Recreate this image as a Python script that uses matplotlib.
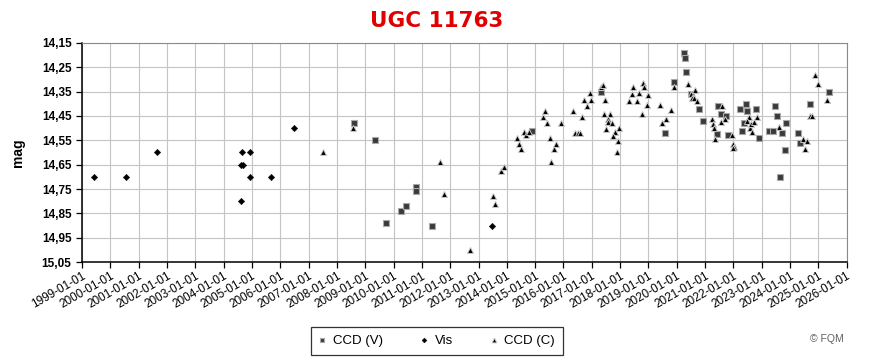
import matplotlib
matplotlib.use("Agg")
import matplotlib.pyplot as plt
import numpy as np

# ------------------------------------------------------------
# Data (decimal year, magnitude)
# ------------------------------------------------------------
ccd_v_t = [2008.60, 2009.35, 2009.73, 2010.25, 2010.44, 2010.78, 2010.81, 2011.36,
           2014.89, 2017.33, 2019.59, 2019.90, 2020.26, 2020.30, 2020.32, 2020.49,
           2020.79, 2020.92, 2021.41, 2021.46, 2021.55, 2021.74, 2021.81, 2022.23,
           2022.29, 2022.36, 2022.43, 2022.48, 2022.79, 2022.89, 2023.27, 2023.38,
           2023.46, 2023.54, 2023.63, 2023.71, 2023.86, 2023.82, 2024.27, 2024.34,
           2024.69, 2025.37]
ccd_v_m = [14.48, 14.55, 14.89, 14.84, 14.82, 14.74, 14.76, 14.90,
           14.51, 14.35, 14.52, 14.31, 14.19, 14.21, 14.27, 14.36,
           14.42, 14.47, 14.525, 14.41, 14.44, 14.45, 14.527, 14.42,
           14.51, 14.478, 14.40, 14.43, 14.42, 14.54, 14.51, 14.51,
           14.41, 14.45, 14.70, 14.52, 14.48, 14.59, 14.52, 14.56,
           14.40, 14.35]

vis_t = [1999.42, 2000.54, 2001.64, 2004.60, 2004.60, 2004.68, 2004.66, 2004.92,
         2004.92, 2005.66, 2006.47, 2013.47]
vis_m = [14.70, 14.70, 14.60, 14.80, 14.65, 14.65, 14.60, 14.60,
         14.70, 14.70, 14.50, 14.90]

ccd_c_t = [2007.50, 2008.57, 2011.65, 2011.79, 2012.70, 2013.51, 2013.59, 2013.80,
           2013.90, 2014.36, 2014.43, 2014.50, 2014.62, 2014.68, 2014.78, 2015.28,
           2015.35, 2015.42, 2015.53, 2015.56, 2015.67, 2015.74, 2015.91, 2016.34,
           2016.41, 2016.50, 2016.58, 2016.66, 2016.73, 2016.84, 2016.94, 2016.97,
           2017.33, 2017.40, 2017.47, 2017.42, 2017.63, 2017.56, 2017.58, 2017.70,
           2017.50, 2017.82, 2017.75, 2017.96, 2017.93, 2017.89, 2018.30, 2018.41,
           2018.46, 2018.60, 2018.67, 2018.77, 2018.80, 2018.84, 2018.95, 2018.99,
           2019.41, 2019.48, 2019.62, 2019.80, 2019.90, 2020.40, 2020.49, 2020.53,
           2020.61, 2020.64, 2020.72, 2021.23, 2021.27, 2021.30, 2021.35, 2021.60,
           2021.56, 2021.69, 2021.94, 2022.00, 2022.01, 2022.00, 2022.54, 2022.49,
           2022.58, 2022.65, 2022.62, 2022.72, 2022.83, 2023.61, 2024.45, 2024.60,
           2024.54, 2024.72, 2024.78, 2024.87, 2024.99, 2025.31]
ccd_c_m = [14.60, 14.50, 14.64, 14.77, 15.00, 14.78, 14.81, 14.675,
           14.66, 14.54, 14.565, 14.585, 14.516, 14.53, 14.516, 14.455,
           14.43, 14.48, 14.54, 14.64, 14.585, 14.565, 14.48, 14.43,
           14.52, 14.52, 14.52, 14.453, 14.384, 14.41, 14.354, 14.384,
           14.33, 14.323, 14.384, 14.443, 14.443, 14.464, 14.473, 14.48,
           14.503, 14.515, 14.532, 14.50, 14.553, 14.60, 14.39, 14.36,
           14.33, 14.39, 14.354, 14.443, 14.313, 14.33, 14.405, 14.364,
           14.405, 14.48, 14.464, 14.425, 14.33, 14.318, 14.36, 14.377,
           14.377, 14.343, 14.39, 14.462, 14.484, 14.50, 14.543, 14.41,
           14.473, 14.461, 14.53, 14.565, 14.576, 14.583, 14.455, 14.47,
           14.50, 14.515, 14.484, 14.473, 14.453, 14.494, 14.543, 14.551,
           14.585, 14.45, 14.45, 14.283, 14.32, 14.383]

years = list(range(1999, 2027))
mag_ticks = [14.15, 14.25, 14.35, 14.45, 14.55, 14.65, 14.75, 14.85, 14.95, 15.05]

# ------------------------------------------------------------
# Figure
# ------------------------------------------------------------
plt.rcParams["font.family"] = ["Liberation Sans", "DejaVu Sans"]

fig = plt.figure(figsize=(8.75, 3.64), dpi=100)
ax = fig.add_axes([0.0937, 0.2802, 0.8740, 0.6017])

ax.plot(ccd_v_t, ccd_v_m, ls="none", marker="s", ms=4.6, mfc="#3a3a3a",
        mec="#a8a8a8", mew=0.8, label="CCD (V)", zorder=3)
ax.plot(vis_t, vis_m, ls="none", marker="D", ms=3.3, mfc="black",
        mec="black", mew=0.3, label="Vis", zorder=4)
ax.plot(ccd_c_t, ccd_c_m, ls="none", marker="^", ms=4.6, mfc="black",
        mec="#c8c8c8", mew=0.7, label="CCD (C)", zorder=5)

ax.set_xlim(years[0], years[-1])
ax.set_ylim(mag_ticks[-1], mag_ticks[0])
ax.set_xticks(years)
ax.set_xticklabels([f"{y}-01-01" for y in years], rotation=30, ha="right",
                   rotation_mode="anchor", fontsize=8.5)
ax.set_yticks(mag_ticks)
ax.set_yticklabels([f"{v:.2f}".replace(".", ",") for v in mag_ticks],
                   fontsize=8.5, fontweight="bold")
ax.tick_params(axis="both", direction="out", length=4, width=0.9, color="black")
ax.tick_params(axis="x", pad=2)

ax.grid(True, color="#c4c4c4", lw=0.8)
ax.set_axisbelow(True)
for s in ("top", "right"):
    ax.spines[s].set_color("#8a8a8a")
for s in ("left", "bottom"):
    ax.spines[s].set_color("black")
    ax.spines[s].set_linewidth(1.1)

ax.set_ylabel("mag", fontsize=10, fontweight="bold", labelpad=12)

fig.text(0.499, 0.943, "UGC 11763", ha="center", va="center", color="#e00000",
         fontsize=15.5, fontweight="bold", family=["DejaVu Sans"])

leg = fig.legend(loc="center", bbox_to_anchor=(0.499, 0.063), ncol=3,
                 frameon=True, fancybox=False, fontsize=9.5, markerscale=0.75,
                 handlelength=0.6, handletextpad=0.5, columnspacing=2.8,
                 borderpad=0.6, borderaxespad=0)
leg.get_frame().set_edgecolor("black")
leg.get_frame().set_linewidth(0.9)

fig.text(0.945, 0.07, "© FQM", ha="center", va="center", color="#606060", fontsize=7.5)

fig.savefig("out.png", dpi=100)
